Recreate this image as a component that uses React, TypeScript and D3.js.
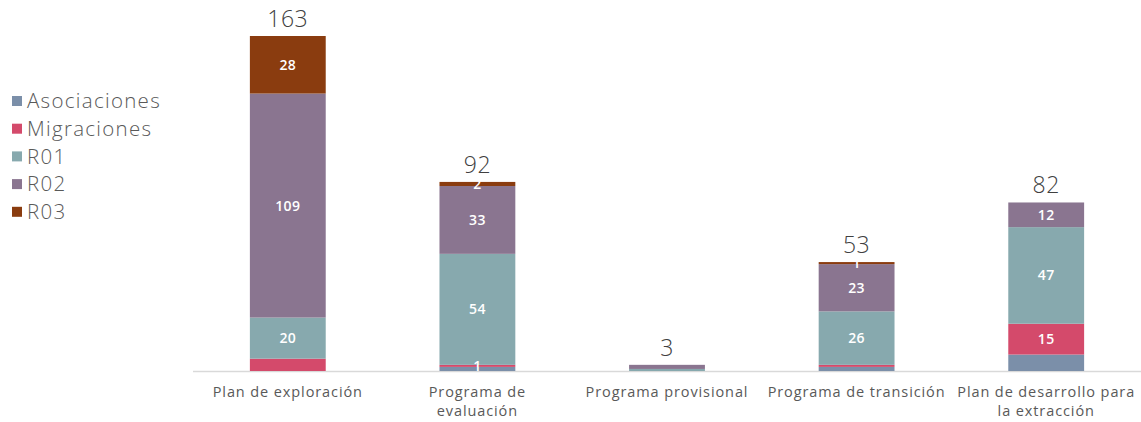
import React from "react";
import * as d3 from "d3";

const categories = [
  ["Plan de exploración"],
  ["Programa de", "evaluación"],
  ["Programa provisional"],
  ["Programa de transición"],
  ["Plan de desarrollo para", "la extracción"],
];
const seriesNames = ["Asociaciones", "Migraciones", "R01", "R02", "R03"];
const asociaciones = [0, 2, 0, 2, 8];
const migraciones = [6, 1, 0, 1, 15];
const r01 = [20, 54, 1, 26, 47];
const r02 = [109, 33, 2, 23, 12];
const r03 = [28, 2, 0, 1, 0];
const totals = [163, 92, 3, 53, 82];
// which segment labels appear in the source (series index per category)
const shownLabels: number[][] = [
  [2, 3, 4],
  [1, 2, 3, 4],
  [],
  [2, 3, 4],
  [1, 2, 3],
];
const colors = ["#7b8fa9", "#d44a6b", "#87a9ae", "#8a7590", "#8a3c0f"];

export default function App() {
  const W = 1141, H = 422;
  const values = [asociaciones, migraciones, r01, r02, r03];
  const x = d3.scaleBand<number>().domain(d3.range(categories.length)).range([193, 1141]).paddingInner(0.6).paddingOuter(0.3);
  const y = d3.scaleLinear().domain([0, 163]).range([371, 36]);
  const rows = categories.map((_, i) => {
    const o: any = { i };
    seriesNames.forEach((s, k) => (o[s] = values[k][i]));
    return o;
  });
  const stacked = d3.stack<any>().keys(seriesNames)(rows);
  const font = "'Open Sans', 'Noto Sans', sans-serif";
  return (
    <svg width={W} height={H} style={{ display: "block", position: "absolute", left: 0, top: 0 }} fontFamily={font}>
      <line x1={193} x2={1141} y1={371.5} y2={371.5} stroke="#d9d9d9" strokeWidth={1.5} />
      {stacked.map((layer, k) => (
        <g key={k} fill={colors[k]}>
          {layer.map((d, i) => {
            const h = y(d[0]) - y(d[1]);
            if (h <= 0) return null;
            return <rect key={i} x={x(i)!} width={x.bandwidth()} y={y(d[1])} height={h} />;
          })}
        </g>
      ))}
      {stacked.map((layer, k) =>
        layer.map((d, i) => {
          if (!shownLabels[i].includes(k)) return null;
          const v = values[k][i];
          const cy = (y(d[0]) + y(d[1])) / 2;
          return (
            <text key={`${k}-${i}`} x={x(i)! + x.bandwidth() / 2} y={cy} dy="0.36em" textAnchor="middle" fill="#fff" fontSize={14} fontWeight={600} letterSpacing={0.4}>
              {v}
            </text>
          );
        })
      )}
      {totals.map((t, i) => (
        <text key={i} x={x(i)! + x.bandwidth() / 2} y={y(t) - 9} textAnchor="middle" fill="#404040" fontSize={23} fontWeight={300} letterSpacing={0.5}>
          {t}
        </text>
      ))}
      {categories.map((lines, i) => (
        <text key={i} x={x(i)! + x.bandwidth() / 2} y={397} textAnchor="middle" fill="#595959" fontSize={14.5} letterSpacing={0.9}>
          {lines.map((l, j) => (
            <tspan key={j} x={x(i)! + x.bandwidth() / 2} dy={j === 0 ? 0 : 19}>{l}</tspan>
          ))}
        </text>
      ))}
      {seriesNames.map((s, k) => (
        <g key={s} transform={`translate(12, ${101 + k * 27.7})`}>
          <rect x={0} y={-5} width={10} height={10} fill={colors[k]} />
          <text x={15} y={0} dy="0.36em" fill="#595959" fontSize={20.5} fontWeight={300} letterSpacing={1.3}>{s}</text>
        </g>
      ))}
    </svg>
  );
}
